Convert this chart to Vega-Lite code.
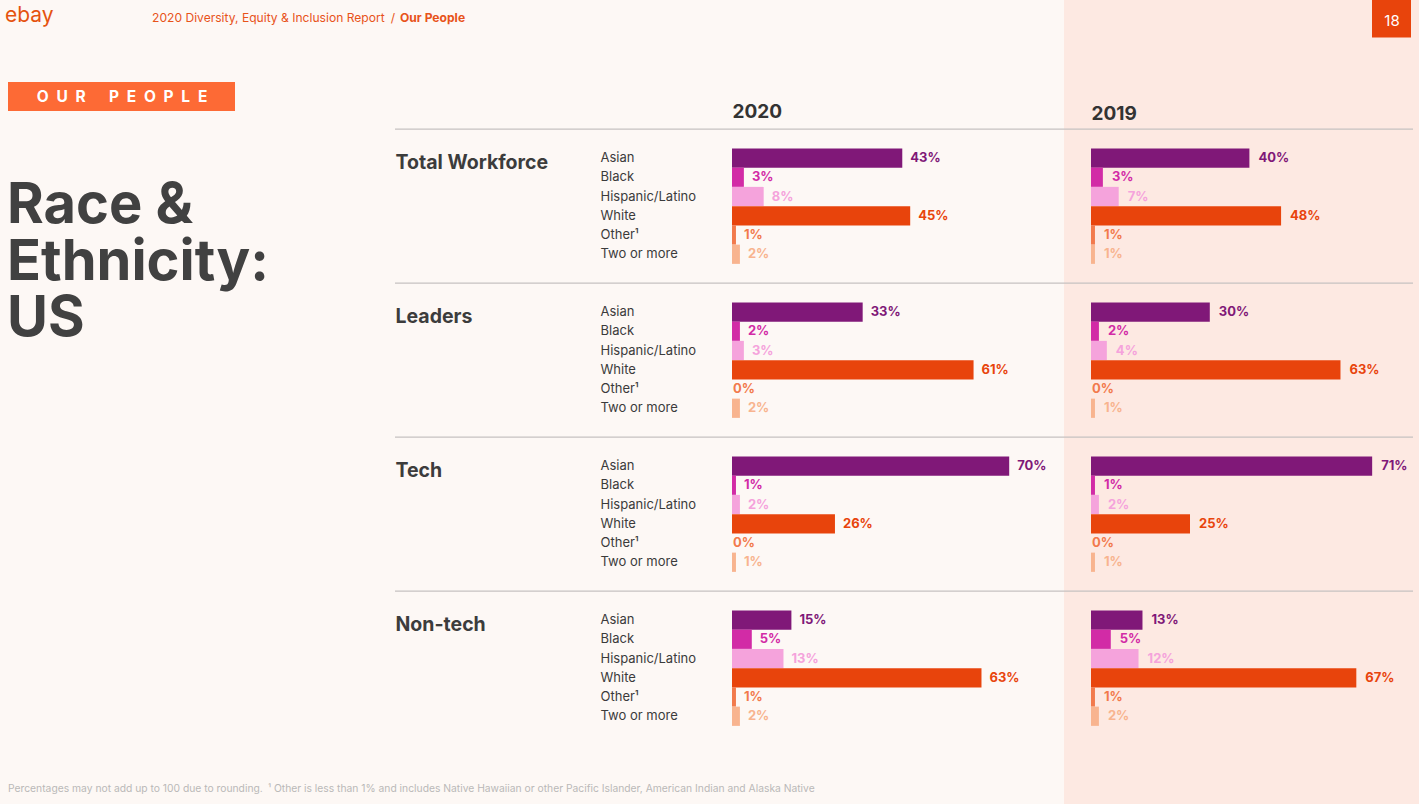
{
  "$schema": "https://vega.github.io/schema/vega-lite/v6.json",
  "width": 1018,
  "height": 804,
  "autosize": "none",
  "padding": {"left": 395, "top": 0, "right": 6, "bottom": 0},
  "background": "#fdf8f5",
  "config": {"view": {"stroke": null}, "font": "Inter", "text": {"font": "Inter"}},
  "datasets": {
    "separators": [
      {"group": "Total Workforce", "key": "Total Workforce|gapB"},
      {"group": "Leaders", "key": "Leaders|gapB"},
      {"group": "Tech", "key": "Tech|gapB"},
      {"group": "Non-tech", "key": "Non-tech|gapB"}
    ],
    "shares": [
      {"year": 2020, "group": "Total Workforce", "category": "Asian", "key": "Total Workforce|Asian", "share": 0.43},
      {"year": 2020, "group": "Total Workforce", "category": "Black", "key": "Total Workforce|Black", "share": 0.03},
      {"year": 2020, "group": "Total Workforce", "category": "Hispanic/Latino", "key": "Total Workforce|Hispanic/Latino", "share": 0.08},
      {"year": 2020, "group": "Total Workforce", "category": "White", "key": "Total Workforce|White", "share": 0.45},
      {"year": 2020, "group": "Total Workforce", "category": "Other", "key": "Total Workforce|Other", "share": 0.01},
      {"year": 2020, "group": "Total Workforce", "category": "Two or more", "key": "Total Workforce|Two or more", "share": 0.02},
      {"year": 2020, "group": "Leaders", "category": "Asian", "key": "Leaders|Asian", "share": 0.33},
      {"year": 2020, "group": "Leaders", "category": "Black", "key": "Leaders|Black", "share": 0.02},
      {"year": 2020, "group": "Leaders", "category": "Hispanic/Latino", "key": "Leaders|Hispanic/Latino", "share": 0.03},
      {"year": 2020, "group": "Leaders", "category": "White", "key": "Leaders|White", "share": 0.61},
      {"year": 2020, "group": "Leaders", "category": "Other", "key": "Leaders|Other", "share": 0.0},
      {"year": 2020, "group": "Leaders", "category": "Two or more", "key": "Leaders|Two or more", "share": 0.02},
      {"year": 2020, "group": "Tech", "category": "Asian", "key": "Tech|Asian", "share": 0.70},
      {"year": 2020, "group": "Tech", "category": "Black", "key": "Tech|Black", "share": 0.01},
      {"year": 2020, "group": "Tech", "category": "Hispanic/Latino", "key": "Tech|Hispanic/Latino", "share": 0.02},
      {"year": 2020, "group": "Tech", "category": "White", "key": "Tech|White", "share": 0.26},
      {"year": 2020, "group": "Tech", "category": "Other", "key": "Tech|Other", "share": 0.0},
      {"year": 2020, "group": "Tech", "category": "Two or more", "key": "Tech|Two or more", "share": 0.01},
      {"year": 2020, "group": "Non-tech", "category": "Asian", "key": "Non-tech|Asian", "share": 0.15},
      {"year": 2020, "group": "Non-tech", "category": "Black", "key": "Non-tech|Black", "share": 0.05},
      {"year": 2020, "group": "Non-tech", "category": "Hispanic/Latino", "key": "Non-tech|Hispanic/Latino", "share": 0.13},
      {"year": 2020, "group": "Non-tech", "category": "White", "key": "Non-tech|White", "share": 0.63},
      {"year": 2020, "group": "Non-tech", "category": "Other", "key": "Non-tech|Other", "share": 0.01},
      {"year": 2020, "group": "Non-tech", "category": "Two or more", "key": "Non-tech|Two or more", "share": 0.02},
      {"year": 2019, "group": "Total Workforce", "category": "Asian", "key": "Total Workforce|Asian", "share": 0.40},
      {"year": 2019, "group": "Total Workforce", "category": "Black", "key": "Total Workforce|Black", "share": 0.03},
      {"year": 2019, "group": "Total Workforce", "category": "Hispanic/Latino", "key": "Total Workforce|Hispanic/Latino", "share": 0.07},
      {"year": 2019, "group": "Total Workforce", "category": "White", "key": "Total Workforce|White", "share": 0.48},
      {"year": 2019, "group": "Total Workforce", "category": "Other", "key": "Total Workforce|Other", "share": 0.01},
      {"year": 2019, "group": "Total Workforce", "category": "Two or more", "key": "Total Workforce|Two or more", "share": 0.01},
      {"year": 2019, "group": "Leaders", "category": "Asian", "key": "Leaders|Asian", "share": 0.30},
      {"year": 2019, "group": "Leaders", "category": "Black", "key": "Leaders|Black", "share": 0.02},
      {"year": 2019, "group": "Leaders", "category": "Hispanic/Latino", "key": "Leaders|Hispanic/Latino", "share": 0.04},
      {"year": 2019, "group": "Leaders", "category": "White", "key": "Leaders|White", "share": 0.63},
      {"year": 2019, "group": "Leaders", "category": "Other", "key": "Leaders|Other", "share": 0.0},
      {"year": 2019, "group": "Leaders", "category": "Two or more", "key": "Leaders|Two or more", "share": 0.01},
      {"year": 2019, "group": "Tech", "category": "Asian", "key": "Tech|Asian", "share": 0.71},
      {"year": 2019, "group": "Tech", "category": "Black", "key": "Tech|Black", "share": 0.01},
      {"year": 2019, "group": "Tech", "category": "Hispanic/Latino", "key": "Tech|Hispanic/Latino", "share": 0.02},
      {"year": 2019, "group": "Tech", "category": "White", "key": "Tech|White", "share": 0.25},
      {"year": 2019, "group": "Tech", "category": "Other", "key": "Tech|Other", "share": 0.0},
      {"year": 2019, "group": "Tech", "category": "Two or more", "key": "Tech|Two or more", "share": 0.01},
      {"year": 2019, "group": "Non-tech", "category": "Asian", "key": "Non-tech|Asian", "share": 0.13},
      {"year": 2019, "group": "Non-tech", "category": "Black", "key": "Non-tech|Black", "share": 0.05},
      {"year": 2019, "group": "Non-tech", "category": "Hispanic/Latino", "key": "Non-tech|Hispanic/Latino", "share": 0.12},
      {"year": 2019, "group": "Non-tech", "category": "White", "key": "Non-tech|White", "share": 0.67},
      {"year": 2019, "group": "Non-tech", "category": "Other", "key": "Non-tech|Other", "share": 0.01},
      {"year": 2019, "group": "Non-tech", "category": "Two or more", "key": "Non-tech|Two or more", "share": 0.02}
    ]
  },
  "data": {"name": "shares"},
  "layer": [
    {
      "data": {"values": [{}]},
      "mark": {"type": "rect", "x": 669, "x2": 1030, "y": 0, "y2": 804, "fill": "#fde9e2"}
    },
    {
      "data": {"name": "separators"},
      "mark": {"type": "rule", "stroke": "#c6c2c1", "strokeWidth": 1.3},
      "encoding": {
        "y": {"field": "key", "type": "nominal", "bandPosition": 0,
          "scale": {"domain": ["Total Workforce|gapA","Total Workforce|gapB","Total Workforce|Asian","Total Workforce|Black","Total Workforce|Hispanic/Latino","Total Workforce|White","Total Workforce|Other","Total Workforce|Two or more","Leaders|gapA","Leaders|gapB","Leaders|Asian","Leaders|Black","Leaders|Hispanic/Latino","Leaders|White","Leaders|Other","Leaders|Two or more","Tech|gapA","Tech|gapB","Tech|Asian","Tech|Black","Tech|Hispanic/Latino","Tech|White","Tech|Other","Tech|Two or more","Non-tech|gapA","Non-tech|gapB","Non-tech|Asian","Non-tech|Black","Non-tech|Hispanic/Latino","Non-tech|White","Non-tech|Other","Non-tech|Two or more"], "range": [109.875, 725.875], "paddingInner": 0, "paddingOuter": 0},
          "axis": null}
      }
    },
    {
      "data": {"values": [{}]},
      "mark": {"type": "rule", "x": -390, "x2": 1016, "y": 38.5, "y2": 38.5, "stroke": "#ef7d4d", "strokeWidth": 1.5},
      "encoding": {}
    },
    {
      "data": {"values": [{}]},
      "mark": {"type": "rect", "x": 977, "x2": 1016, "y": 0, "y2": 37.5, "fill": "#e8440c"}
    },
    {
      "data": {"values": [{}]},
      "mark": {"type": "text", "text": "18", "x": 997, "y": 26, "align": "center", "baseline": "alphabetic", "fontSize": 15, "fill": "#ffffff"}
    },
    {
      "data": {"values": [{}]},
      "mark": {"type": "text", "text": "ebay", "x": -390, "y": 21.5, "align": "left", "baseline": "alphabetic", "fontSize": 21, "fill": "#e5530f"}
    },
    {
      "data": {"values": [{}]},
      "mark": {"type": "text", "text": "2020 Diversity, Equity & Inclusion Report\u2002/", "x": -243, "y": 22, "align": "left", "baseline": "alphabetic", "fontSize": 12.1, "fill": "#e8531a"}
    },
    {
      "data": {"values": [{}]},
      "mark": {"type": "text", "text": "Our People", "x": 5, "y": 22, "align": "left", "baseline": "alphabetic", "fontSize": 12.1, "fontWeight": "bold", "fill": "#e8531a"}
    },
    {
      "data": {"values": [{}]},
      "mark": {"type": "rect", "x": -387, "x2": -160, "y": 82, "y2": 111, "fill": "#fd6a35"}
    },
    {
      "data": {"values": [{}]},
      "mark": {"type": "text", "text": "O\u2002U\u2002R\u2002\u2002\u2002P\u2002E\u2002O\u2002P\u2002L\u2002E", "x": -273, "y": 102, "align": "center", "baseline": "alphabetic", "fontSize": 15.5, "fontWeight": "bold", "fill": "#ffffff"}
    },
    {
      "data": {"values": [{}]},
      "mark": {"type": "text", "text": "Race &", "x": -388, "y": 223, "align": "left", "baseline": "alphabetic", "fontSize": 56, "fontWeight": "bold", "fill": "#414141"}
    },
    {
      "data": {"values": [{}]},
      "mark": {"type": "text", "text": "Ethnicity:", "x": -388, "y": 279.5, "align": "left", "baseline": "alphabetic", "fontSize": 56, "fontWeight": "bold", "fill": "#414141"}
    },
    {
      "data": {"values": [{}]},
      "mark": {"type": "text", "text": "US", "x": -388, "y": 336, "align": "left", "baseline": "alphabetic", "fontSize": 56, "fontWeight": "bold", "fill": "#414141"}
    },
    {
      "data": {"values": [{}]},
      "mark": {"type": "text", "text": "Percentages may not add up to 100 due to rounding.\u2002\u00b9 Other is less than 1% and includes Native Hawaiian or other Pacific Islander, American Indian and Alaska Native", "x": -387, "y": 792, "align": "left", "baseline": "alphabetic", "fontSize": 10.3, "fill": "#bab8b8"}
    },
    {
      "transform": [{"filter": "datum.year == 2020"}],
      "layer": [
        {
          "mark": {"type": "bar"},
          "encoding": {
            "x": {"field": "share", "type": "quantitative", "scale": {"domain": [0, 1], "range": [337, 733], "zero": true},
              "axis": {"orient": "top", "values": [0], "labelExpr": "'2020'", "offset": -117, "ticks": false, "domain": false, "grid": false, "labelPadding": 0, "labelAlign": "left", "labelBaseline": "alphabetic", "labelFlush": false, "labelFont": "Inter", "labelFontSize": 19, "labelFontWeight": "bold", "labelColor": "#333333", "title": null, "zindex": 1}},
            "y": {"field": "key", "type": "nominal",
              "scale": {"domain": ["Total Workforce|gapA","Total Workforce|gapB","Total Workforce|Asian","Total Workforce|Black","Total Workforce|Hispanic/Latino","Total Workforce|White","Total Workforce|Other","Total Workforce|Two or more","Leaders|gapA","Leaders|gapB","Leaders|Asian","Leaders|Black","Leaders|Hispanic/Latino","Leaders|White","Leaders|Other","Leaders|Two or more","Tech|gapA","Tech|gapB","Tech|Asian","Tech|Black","Tech|Hispanic/Latino","Tech|White","Tech|Other","Tech|Two or more","Non-tech|gapA","Non-tech|gapB","Non-tech|Asian","Non-tech|Black","Non-tech|Hispanic/Latino","Non-tech|White","Non-tech|Other","Non-tech|Two or more"], "range": [109.875, 725.875], "paddingInner": 0, "paddingOuter": 0},
              "axis": {"orient": "left", "offset": -205, "values": ["Total Workforce|Asian","Total Workforce|Black","Total Workforce|Hispanic/Latino","Total Workforce|White","Total Workforce|Other","Total Workforce|Two or more","Leaders|Asian","Leaders|Black","Leaders|Hispanic/Latino","Leaders|White","Leaders|Other","Leaders|Two or more","Tech|Asian","Tech|Black","Tech|Hispanic/Latino","Tech|White","Tech|Other","Tech|Two or more","Non-tech|Asian","Non-tech|Black","Non-tech|Hispanic/Latino","Non-tech|White","Non-tech|Other","Non-tech|Two or more"], "labelExpr": "split(datum.value, '|')[1] == 'Other' ? 'Other¹' : split(datum.value, '|')[1]", "ticks": false, "domain": false, "grid": false, "labelAlign": "left", "labelBaseline": "middle", "labelPadding": 0, "labelFont": "Inter", "labelFontSize": 13, "labelColor": "#3b3b3b", "labelLimit": 0, "title": null, "zindex": 1}},
            "color": {"field": "category", "type": "nominal", "legend": null,
              "scale": {"domain": ["Asian", "Black", "Hispanic/Latino", "White", "Other", "Two or more"], "range": ["#801878", "#d22ba6", "#f5a3dc", "#e8440c", "#f27a4c", "#f8b48f"]}}
          }
        },
        {
          "mark": {"type": "text", "align": "left", "baseline": "middle", "dx": {"expr": "datum.share == 0 ? 1 : 8"}, "fontSize": 13, "fontWeight": "bold", "font": "Inter"},
          "encoding": {
            "x": {"field": "share", "type": "quantitative", "scale": {"domain": [0, 1], "range": [337, 733], "zero": true}},
            "y": {"field": "key", "type": "nominal",
              "scale": {"domain": ["Total Workforce|gapA","Total Workforce|gapB","Total Workforce|Asian","Total Workforce|Black","Total Workforce|Hispanic/Latino","Total Workforce|White","Total Workforce|Other","Total Workforce|Two or more","Leaders|gapA","Leaders|gapB","Leaders|Asian","Leaders|Black","Leaders|Hispanic/Latino","Leaders|White","Leaders|Other","Leaders|Two or more","Tech|gapA","Tech|gapB","Tech|Asian","Tech|Black","Tech|Hispanic/Latino","Tech|White","Tech|Other","Tech|Two or more","Non-tech|gapA","Non-tech|gapB","Non-tech|Asian","Non-tech|Black","Non-tech|Hispanic/Latino","Non-tech|White","Non-tech|Other","Non-tech|Two or more"], "range": [109.875, 725.875], "paddingInner": 0, "paddingOuter": 0}},
            "text": {"field": "share", "type": "quantitative", "format": ".0%"},
            "color": {"field": "category", "type": "nominal", "legend": null,
              "scale": {"domain": ["Asian", "Black", "Hispanic/Latino", "White", "Other", "Two or more"], "range": ["#801878", "#d22ba6", "#f5a3dc", "#e8440c", "#f27a4c", "#f8b48f"]}}
          }
        }
      ]
    },
    {
      "transform": [{"filter": "datum.year == 2019"}],
      "layer": [
        {
          "mark": {"type": "bar"},
          "encoding": {
            "x": {"field": "share", "type": "quantitative", "scale": {"domain": [0, 1], "range": [696, 1092], "zero": true},
              "axis": {"orient": "top", "values": [0], "labelExpr": "'2019'", "offset": -119.5, "ticks": false, "domain": false, "grid": false, "labelPadding": 0, "labelAlign": "left", "labelBaseline": "alphabetic", "labelFlush": false, "labelFont": "Inter", "labelFontSize": 19, "labelFontWeight": "bold", "labelColor": "#333333", "title": null, "zindex": 1}},
            "y": {"field": "key", "type": "nominal",
              "scale": {"domain": ["Total Workforce|gapA","Total Workforce|gapB","Total Workforce|Asian","Total Workforce|Black","Total Workforce|Hispanic/Latino","Total Workforce|White","Total Workforce|Other","Total Workforce|Two or more","Leaders|gapA","Leaders|gapB","Leaders|Asian","Leaders|Black","Leaders|Hispanic/Latino","Leaders|White","Leaders|Other","Leaders|Two or more","Tech|gapA","Tech|gapB","Tech|Asian","Tech|Black","Tech|Hispanic/Latino","Tech|White","Tech|Other","Tech|Two or more","Non-tech|gapA","Non-tech|gapB","Non-tech|Asian","Non-tech|Black","Non-tech|Hispanic/Latino","Non-tech|White","Non-tech|Other","Non-tech|Two or more"], "range": [109.875, 725.875], "paddingInner": 0, "paddingOuter": 0},
              "axis": {"orient": "left", "offset": 0, "values": ["Total Workforce|Asian", "Leaders|Asian", "Tech|Asian", "Non-tech|Asian"], "labelExpr": "split(datum.value, '|')[0]", "labelOffset": 5, "ticks": false, "domain": false, "grid": false, "labelAlign": "left", "labelBaseline": "middle", "labelPadding": 0, "labelFont": "Inter", "labelFontSize": 19.5, "labelFontWeight": "bold", "labelColor": "#3c3c3c", "labelLimit": 0, "title": null, "zindex": 1}},
            "color": {"field": "category", "type": "nominal", "legend": null,
              "scale": {"domain": ["Asian", "Black", "Hispanic/Latino", "White", "Other", "Two or more"], "range": ["#801878", "#d22ba6", "#f5a3dc", "#e8440c", "#f27a4c", "#f8b48f"]}}
          }
        },
        {
          "mark": {"type": "text", "align": "left", "baseline": "middle", "dx": {"expr": "datum.share == 0 ? 1 : 9"}, "fontSize": 13, "fontWeight": "bold", "font": "Inter"},
          "encoding": {
            "x": {"field": "share", "type": "quantitative", "scale": {"domain": [0, 1], "range": [696, 1092], "zero": true}},
            "y": {"field": "key", "type": "nominal",
              "scale": {"domain": ["Total Workforce|gapA","Total Workforce|gapB","Total Workforce|Asian","Total Workforce|Black","Total Workforce|Hispanic/Latino","Total Workforce|White","Total Workforce|Other","Total Workforce|Two or more","Leaders|gapA","Leaders|gapB","Leaders|Asian","Leaders|Black","Leaders|Hispanic/Latino","Leaders|White","Leaders|Other","Leaders|Two or more","Tech|gapA","Tech|gapB","Tech|Asian","Tech|Black","Tech|Hispanic/Latino","Tech|White","Tech|Other","Tech|Two or more","Non-tech|gapA","Non-tech|gapB","Non-tech|Asian","Non-tech|Black","Non-tech|Hispanic/Latino","Non-tech|White","Non-tech|Other","Non-tech|Two or more"], "range": [109.875, 725.875], "paddingInner": 0, "paddingOuter": 0}},
            "text": {"field": "share", "type": "quantitative", "format": ".0%"},
            "color": {"field": "category", "type": "nominal", "legend": null,
              "scale": {"domain": ["Asian", "Black", "Hispanic/Latino", "White", "Other", "Two or more"], "range": ["#801878", "#d22ba6", "#f5a3dc", "#e8440c", "#f27a4c", "#f8b48f"]}}
          }
        }
      ]
    }
  ],
  "resolve": {"scale": {"x": "independent"}, "axis": {"x": "independent", "y": "independent"}}
}
